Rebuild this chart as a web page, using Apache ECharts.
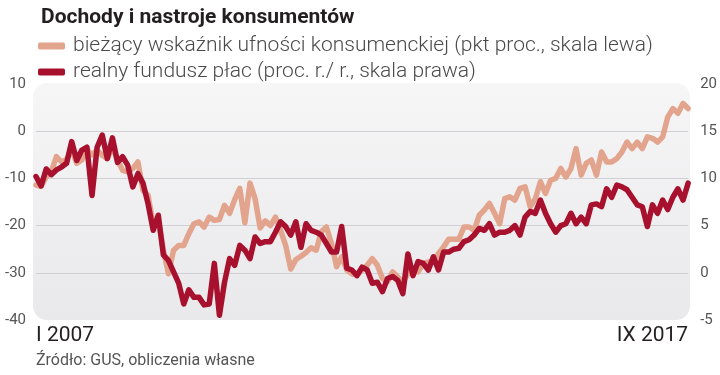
<!DOCTYPE html>
<html>
<head>
<meta charset="utf-8">
<script src="https://cdn.jsdelivr.net/npm/echarts@6/dist/echarts.min.js"></script>
<style>
html,body{margin:0;padding:0;background:#fff;}
#chart{width:720px;height:375px;}
</style>
</head>
<body>
<div id="chart"></div>
<script>
const romanMonths = ['I','II','III','IV','V','VI','VII','VIII','IX','X','XI','XII'];
const startYear = 2007;
const monthCount = 129; // I 2007 .. IX 2017

const seriesNames = [
  'bieżący wskaźnik ufności konsumenckiej (pkt proc., skala lewa)',
  'realny fundusz płac (proc. r./ r., skala prawa)'
];

// consumer confidence indicator (left axis)
const confidence = [
  -11.4,-11.7,-9.7,-8.6,-5.4,-6.5,-6.0,-4.0,-6.8,-6.1,-4.0,-5.0,
  -4.0,-5.1,-5.8,-3.3,-6.1,-8.3,-8.6,-7.9,-6.5,-12.5,-13.6,-19.6,
  -18.9,-25.2,-30.2,-25.2,-24.2,-24.2,-21.7,-19.6,-19.2,-20.3,-18.2,-18.9,
  -18.7,-15.7,-17.4,-14.5,-12.1,-19.4,-11.0,-14.3,-20.5,-19.0,-20.0,-18.2,
  -21.0,-24.2,-29.2,-27.2,-26.5,-25.7,-24.7,-25.2,-21.3,-20.3,-23.8,-28.7,
  -26.6,-29.4,-30.2,-30.5,-29.4,-28.4,-27.0,-28.4,-31.2,-31.9,-29.8,-30.9,
  -31.9,-30.2,-29.4,-29.8,-28.0,-27.7,-27.7,-25.9,-24.5,-22.9,-22.9,-22.9,
  -20.3,-20.3,-21.0,-17.8,-16.7,-15.3,-17.4,-19.6,-14.3,-13.9,-14.6,-12.1,
  -11.8,-16.0,-14.3,-10.7,-13.2,-10.4,-10.0,-7.9,-9.7,-7.9,-3.7,-9.3,
  -6.8,-6.1,-9.3,-4.4,-6.5,-6.5,-5.8,-4.4,-2.3,-3.7,-2.3,-3.7,
  -1.2,-1.5,-2.3,-1.2,3.0,4.8,3.8,5.9,4.8
];

// real wage fund, % y/y (right axis)
const wages = [
  10.2,9.2,11.0,10.4,10.9,11.2,11.6,13.9,11.9,13.0,13.3,8.2,
  13.3,14.6,12.1,14.3,11.7,12.3,11.4,9.1,10.5,9.5,7.3,4.5,
  6.1,1.9,1.3,0.1,-1.1,-3.3,-1.8,-2.6,-2.6,-3.4,-3.3,1.0,
  -4.5,-1.0,1.5,0.8,2.9,2.4,1.5,3.8,3.1,3.3,3.3,4.3,
  5.4,4.9,4.0,5.4,2.7,5.2,4.5,4.3,4.0,3.1,2.2,2.2,
  4.9,0.5,0.3,-0.3,0.6,0.3,-1.1,-1.0,-2.0,-0.6,-0.4,-0.8,
  -2.2,2.0,-0.3,1.2,1.0,0.3,1.7,0.3,2.2,2.2,2.5,2.6,
  3.3,3.5,4.0,4.7,4.5,5.2,4.0,4.3,4.3,4.5,5.0,4.0,
  5.9,6.5,6.3,7.7,6.3,5.2,4.3,5.0,5.2,6.3,5.2,5.9,
  5.2,7.2,7.3,7.0,8.9,8.0,9.3,9.1,8.8,8.0,7.2,7.0,
  4.9,7.2,6.3,7.7,6.7,8.0,8.9,7.7,9.5
];

const leftTicks = {min:-40, max:10, interval:10};
const rightTicks = {min:-5, max:20, interval:5};

const categories = [];
for (let i = 0; i < monthCount; i++) {
  categories.push(romanMonths[i % 12] + ' ' + (startYear + Math.floor(i / 12)));
}

const FONT = 'Roboto, "Noto Sans", sans-serif';
const chart = echarts.init(document.getElementById('chart'), null, {renderer:'canvas'});
const last = categories.length - 1;

chart.setOption({
  animation: false,
  backgroundColor: '#ffffff',
  textStyle: {fontFamily: FONT},
  title: {
    text: 'Dochody i nastroje konsumentów',
    left: 36, top: 2,
    textStyle: {fontSize: 21, fontWeight: 'bold', color: '#231f20', fontFamily: FONT}
  },
  legend: {
    data: seriesNames,
    orient: 'vertical',
    left: 33, top: 30,
    icon: 'roundRect',
    itemWidth: 27, itemHeight: 7,
    itemGap: 4,
    textStyle: {fontSize: 21, fontWeight: 300, color: '#4a4a4a', lineHeight: 22, padding: [0,0,0,3], fontFamily: FONT}
  },
  graphic: [
    {
      type: 'rect', left: 33, top: 83, z: 0, silent: true,
      shape: {width: 657, height: 237, r: 14},
      style: {fill: new echarts.graphic.LinearGradient(0,0,0,1,[{offset:0,color:'#f6f6f7'},{offset:1,color:'#e9e9eb'}])}
    },
    {
      type: 'text', left: 36, top: 353, z: 5,
      style: {text: 'Źródło: GUS, obliczenia własne', fontSize: 16, fill: '#555', fontFamily: FONT}
    }
  ],
  grid: {left: 36, right: 31, top: 84, bottom: 55, containLabel: false},
  xAxis: {
    type: 'category',
    data: categories,
    boundaryGap: false,
    axisLine: {show: false},
    axisTick: {show: false},
    splitLine: {show: false},
    axisLabel: {
      interval: function (i) { return i === 0 || i === last; },
      fontSize: 21, color: '#231f20', margin: 5,
      alignMinLabel: 'left', alignMaxLabel: 'right',
      fontFamily: FONT
    }
  },
  yAxis: [
    {
      type: 'value', position: 'left',
      min: leftTicks.min, max: leftTicks.max, interval: leftTicks.interval,
      axisLine: {show: false}, axisTick: {show: false},
      axisLabel: {fontSize: 15, color: '#555', margin: 10, fontFamily: FONT},
      splitLine: {show: true, showMinLine: false, showMaxLine: false, lineStyle: {color: '#cfcfd4', width: 1}}
    },
    {
      type: 'value', position: 'right',
      min: rightTicks.min, max: rightTicks.max, interval: rightTicks.interval,
      axisLine: {show: false}, axisTick: {show: false},
      axisLabel: {fontSize: 15, color: '#555', margin: 12, fontFamily: FONT},
      splitLine: {show: false}
    }
  ],
  series: [
    {
      name: seriesNames[0], type: 'line', yAxisIndex: 0,
      data: confidence, showSymbol: false, symbol: 'none', z: 3,
      itemStyle: {color: '#e3a48d'},
      lineStyle: {color: '#e3a48d', width: 5.5, join: 'round', cap: 'round'}
    },
    {
      name: seriesNames[1], type: 'line', yAxisIndex: 1,
      data: wages, showSymbol: false, symbol: 'none', z: 4,
      itemStyle: {color: '#a8112e'},
      lineStyle: {color: '#a8112e', width: 5.5, join: 'round', cap: 'round'}
    }
  ]
});
</script>
</body>
</html>
